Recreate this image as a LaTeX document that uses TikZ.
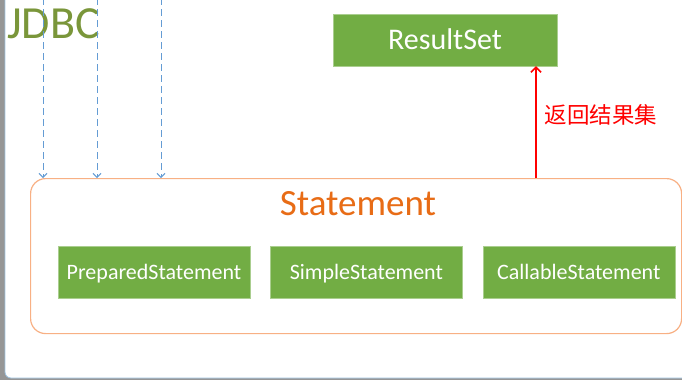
\documentclass[tikz,border=0pt]{standalone}
\usepackage{fontspec}
\setmainfont{Carlito}
\newfontfamily\cjk{Noto Sans CJK SC}
\usepackage{xcolor}
\usepackage{tikz}
\usetikzlibrary{positioning,calc,arrows.meta}
\definecolor{classgreen}{RGB}{114,173,68}
\definecolor{jdbcgreen}{RGB}{122,150,58}
\definecolor{stmtorange}{RGB}{232,108,22}
\definecolor{boxorange}{RGB}{248,176,132}
\definecolor{apiblue}{RGB}{100,156,212}
\definecolor{framegray}{RGB}{150,150,150}
\definecolor{frameblue}{RGB}{160,196,226}

\begin{document}
\begin{tikzpicture}[x=1pt, y=-1pt,
  classbox/.style={rectangle, fill=classgreen, draw=classgreen!60!white, text=white, minimum width=192pt, minimum height=52pt, inner sep=0pt, text height=14pt, text depth=0pt, font=\fontsize{22}{22}\selectfont},
  apiarrow/.style={draw=apiblue, line width=1pt, dash pattern=on 7pt off 4pt, -{Straight Barb[length=4pt,width=8pt]}},
  returnarrow/.style={draw=red, line width=1.6pt, -{Straight Barb[length=5pt,width=10pt]}}]
% Frame
\useasboundingbox (0,0) rectangle (682,380);
\fill[framegray] (0,0) rectangle (682,380);
\draw[fill=white, draw=frameblue, line width=0.8pt, rounded corners=6pt] (5,-20) rectangle (720,378);

\node [anchor=west, text=jdbcgreen, font=\fontsize{46}{46}\selectfont, inner sep=0pt] (jdbctitle) at (7,24) {JDBC};

% Statement
\node [draw=boxorange, line width=1.2pt, rounded corners=15pt, minimum width=651pt, minimum height=155pt, anchor=north west] (statement) at (30,178) {};
\node [text=stmtorange, font=\fontsize{37}{37}\selectfont] (statementtitle) at (358,204) {Statement};

\node [classbox] (prepared) at (154,272) {PreparedStatement};
\node [classbox, right=20pt of prepared] (simple) {SimpleStatement};
\node [classbox, right=20pt of simple] (callable) {CallableStatement};

% ResultSet
\node [classbox, minimum width=224pt, text height=19pt, font=\fontsize{30}{30}\selectfont] (resultset) at (445,40) {ResultSet};

% Calls
\foreach \x [count=\i] in {43,97,161} {
  \coordinate (call\i) at (\x,-2);
  \draw[apiarrow] (call\i) -- (call\i |- statement.north);
}

\coordinate (ret) at (536,0);
\draw[returnarrow] (ret |- statement.north) -- (ret |- resultset.south);
\node [text=red, font=\cjk\fontsize{22.5}{22.5}\selectfont, anchor=west] (retlabel) at (541,115) {返回结果集};
\end{tikzpicture}
\end{document}
